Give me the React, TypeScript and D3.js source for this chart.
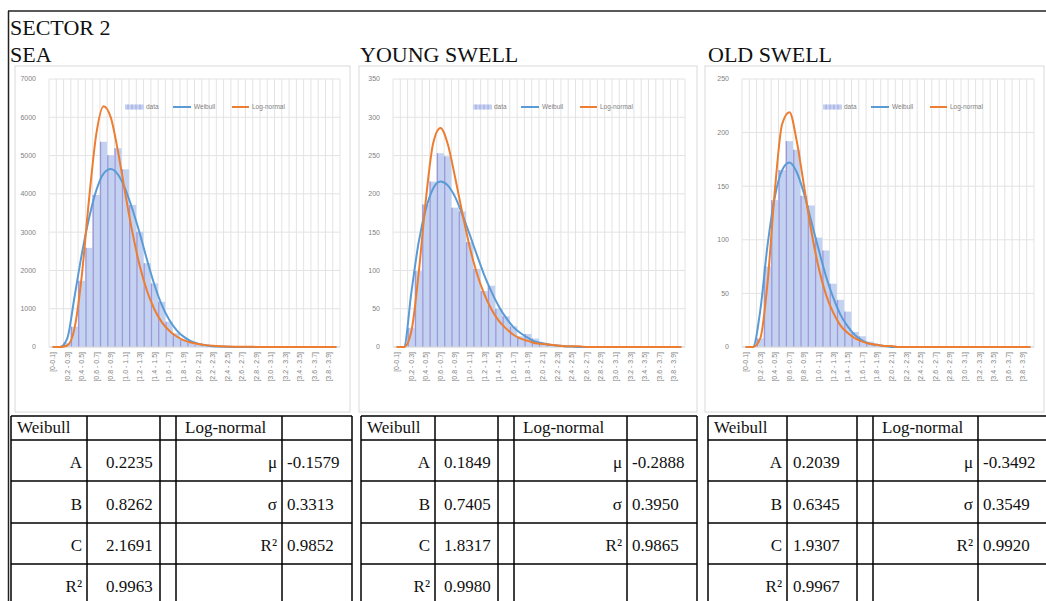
import React from "react";
import * as d3 from "d3";

// Wave-height bins (m); every second label is printed on the axis
const binLabels = [
  "[0-0.1]", "[0.1 - 0.2]", "[0.2 - 0.3]", "[0.3 - 0.4]", "[0.4 - 0.5]",
  "[0.5 - 0.6]", "[0.6 - 0.7]", "[0.7 - 0.8]", "[0.8 - 0.9]", "[0.9 - 1.0]",
  "[1.0 - 1.1]", "[1.1 - 1.2]", "[1.2 - 1.3]", "[1.3 - 1.4]", "[1.4 - 1.5]",
  "[1.5 - 1.6]", "[1.6 - 1.7]", "[1.7 - 1.8]", "[1.8 - 1.9]", "[1.9 - 2.0]",
  "[2.0 - 2.1]", "[2.1 - 2.2]", "[2.2 - 2.3]", "[2.3 - 2.4]", "[2.4 - 2.5]",
  "[2.5 - 2.6]", "[2.6 - 2.7]", "[2.7 - 2.8]", "[2.8 - 2.9]", "[2.9 - 3.0]",
  "[3.0 - 3.1]", "[3.1 - 3.2]", "[3.2 - 3.3]", "[3.3 - 3.4]", "[3.4 - 3.5]",
  "[3.5 - 3.6]", "[3.6 - 3.7]", "[3.7 - 3.8]", "[3.8 - 3.9]", "[3.9 - 4.0]",
];

// SEA
const seaCounts = [
  0, 20, 110, 530, 1730, 2590, 3970, 5360, 5010, 5190,
  4640, 3710, 3010, 2190, 1660, 1180, 660, 360, 200, 110,
  60, 30, 15, 8, 4, 2, 1, 1, 0, 0,
  0, 0, 0, 0, 0, 0, 0, 0, 0, 0,
];
const seaWeibull = [
  0, 0, 220, 1300, 2420, 3360, 4090, 4530, 4650, 4500,
  4120, 3580, 2950, 2260, 1620, 1100, 720, 450, 270, 155,
  85, 45, 22, 10, 5, 2, 1, 0, 0, 0,
  0, 0, 0, 0, 0, 0, 0, 0, 0, 0,
];
const seaLognormal = [
  0, 0, 40, 480, 1850, 3850, 5560, 6290, 5990, 5090,
  3990, 2960, 2100, 1450, 980, 650, 430, 280, 180, 117,
  76, 49, 32, 21, 14, 9, 6, 4, 3, 2,
  1, 1, 0, 0, 0, 0, 0, 0, 0, 0,
];

// YOUNG SWELL
const youngCounts = [
  0, 0, 25, 99, 186, 216, 253, 249, 182, 177,
  137, 102, 73, 80, 50, 40, 27, 14, 17, 11,
  5, 3, 2, 1, 0, 0, 0, 0, 0, 0,
  0, 0, 0, 0, 0, 0, 0, 0, 0, 0,
];
const youngWeibull = [
  0, 0, 70, 136, 180, 207, 216, 211, 196, 173,
  147, 120, 94, 72, 53, 38, 26, 18, 12, 7,
  5, 3, 2, 1, 0.5, 0, 0, 0, 0, 0,
  0, 0, 0, 0, 0, 0, 0, 0, 0, 0,
];
const youngLognormal = [
  0, 0, 20, 95, 192, 266, 286, 265, 222, 175,
  131, 96, 69, 49, 34, 24, 16, 11, 8, 5,
  4, 3, 2, 1, 1, 1, 0, 0, 0, 0,
  0, 0, 0, 0, 0, 0, 0, 0, 0, 0,
];

// OLD SWELL
const oldCounts = [
  0, 0, 8, 75, 137, 165, 192, 184, 141, 132,
  102, 90, 59, 44, 33, 14, 10, 5, 2, 1,
  0, 0, 0, 0, 0, 0, 0, 0, 0, 0,
  0, 0, 0, 0, 0, 0, 0, 0, 0, 0,
];
const oldWeibull = [
  0, 0, 34, 95, 140, 165, 172, 163, 143, 117,
  91, 66, 46, 30, 19, 11, 6, 3, 2, 1,
  0, 0, 0, 0, 0, 0, 0, 0, 0, 0,
  0, 0, 0, 0, 0, 0, 0, 0, 0, 0,
];
const oldLognormal = [
  0, 0, 8, 60, 146, 208, 219, 192, 150, 108,
  74, 49, 32, 20, 13, 8, 5, 3, 2, 1,
  1, 0, 0, 0, 0, 0, 0, 0, 0, 0,
  0, 0, 0, 0, 0, 0, 0, 0, 0, 0,
];

// Fitted parameters shown in the tables
const weibullParamNames = ["A", "B", "C", "R²"];
const lognormalParamNames = ["μ", "σ", "R²"];
const seaWeibullParams = ["0.2235", "0.8262", "2.1691", "0.9963"];
const seaLognormalParams = ["-0.1579", "0.3313", "0.9852"];
const youngWeibullParams = ["0.1849", "0.7405", "1.8317", "0.9980"];
const youngLognormalParams = ["-0.2888", "0.3950", "0.9865"];
const oldWeibullParams = ["0.2039", "0.6345", "1.9307", "0.9967"];
const oldLognormalParams = ["-0.3492", "0.3549", "0.9920"];

const seriesNames = ["data", "Weibull", "Log-normal"];

const W = 1046;
const H = 601;
const BLUE = "#5b9bd5";
const ORANGE = "#ed7d31";
const BAR = "#c2d2f0";
const BAR_EDGE = "#a097da";
const GRID = "#e3e3e3";
const TICK = "#7f7f7f";
const SERIF = "'Liberation Serif', 'Times New Roman', serif";
const SANS = "'Liberation Sans', Arial, sans-serif";

type Panel = {
  title: string;
  titleX: number;
  counts: number[];
  weibull: number[];
  lognormal: number[];
  yMax: number;
  yStep: number;
  plot: { left: number; right: number; top: number; bottom: number };
  box: { x: number; y: number; w: number; h: number };
  legendX: number;
  cols: number[];
  valuePad: number;
  wParams: string[];
  lParams: string[];
};

const panels: Panel[] = [
  {
    title: "SEA", titleX: 10,
    counts: seaCounts, weibull: seaWeibull, lognormal: seaLognormal,
    yMax: 7000, yStep: 1000,
    plot: { left: 49, right: 340, top: 79, bottom: 347 },
    box: { x: 15, y: 66, w: 335, h: 346 },
    legendX: 125,
    cols: [11, 87, 160, 176, 282, 352], valuePad: 19,
    wParams: seaWeibullParams, lParams: seaLognormalParams,
  },
  {
    title: "YOUNG SWELL", titleX: 360,
    counts: youngCounts, weibull: youngWeibull, lognormal: youngLognormal,
    yMax: 350, yStep: 50,
    plot: { left: 393, right: 685, top: 79, bottom: 347 },
    box: { x: 359, y: 66, w: 338, h: 346 },
    legendX: 473,
    cols: [361, 435, 498, 514, 627, 697], valuePad: 9,
    wParams: youngWeibullParams, lParams: youngLognormalParams,
  },
  {
    title: "OLD SWELL", titleX: 708,
    counts: oldCounts, weibull: oldWeibull, lognormal: oldLognormal,
    yMax: 250, yStep: 50,
    plot: { left: 742, right: 1034, top: 79, bottom: 347 },
    box: { x: 705, y: 66, w: 339, h: 346 },
    legendX: 823,
    cols: [708, 787, 857, 873, 978, 1050], valuePad: 6,
    wParams: oldWeibullParams, lParams: oldLognormalParams,
  },
];

const rowLines = [416, 440, 481, 523, 564, 605];

function ChartPanel({ p }: { p: Panel }) {
  const x = d3
    .scaleBand<string>()
    .domain(binLabels)
    .range([p.plot.left, p.plot.right])
    .padding(0);
  const y = d3
    .scaleLinear()
    .domain([0, p.yMax])
    .range([p.plot.bottom, p.plot.top]);
  const yTicks = d3.range(0, p.yMax + p.yStep / 2, p.yStep);
  const bw = x.bandwidth();
  const cx = (i: number) => (x(binLabels[i]) as number) + bw / 2;
  const line = d3
    .line<number>()
    .x((_, i) => cx(i))
    .y((v) => y(v))
    .curve(d3.curveMonotoneX);

  const lx = p.legendX;
  const ly = 107;

  return (
    <g>
      <rect x={p.box.x} y={p.box.y} width={p.box.w} height={p.box.h} fill="#fff" stroke="#d9d9d9" strokeWidth={1} />
      {/* gridlines */}
      {yTicks.map((t) => (
        <line key={"h" + t} x1={p.plot.left} x2={p.plot.right} y1={y(t)} y2={y(t)} stroke={GRID} strokeWidth={1} />
      ))}
      {binLabels.map((b) => (
        <line key={"v" + b} x1={x(b)} x2={x(b)} y1={p.plot.top} y2={p.plot.bottom} stroke={GRID} strokeWidth={1} />
      ))}
      <line x1={p.plot.right} x2={p.plot.right} y1={p.plot.top} y2={p.plot.bottom} stroke={GRID} strokeWidth={1} />
      {/* histogram */}
      {p.counts.map((v, i) => (
        <rect key={"b" + i} x={x(binLabels[i])} y={y(v)} width={bw} height={p.plot.bottom - y(v)} fill={BAR} />
      ))}
      {p.counts.map((v, i) =>
        v > 0 ? (
          <line key={"e" + i} x1={(x(binLabels[i]) as number) + 0.6} x2={(x(binLabels[i]) as number) + 0.6} y1={y(v)} y2={p.plot.bottom} stroke={BAR_EDGE} strokeWidth={1.3} />
        ) : null
      )}
      <line x1={p.plot.left} x2={p.plot.right} y1={p.plot.bottom} y2={p.plot.bottom} stroke="#d9d9d9" strokeWidth={1} />
      {/* fitted curves */}
      <path d={line(p.weibull) || ""} fill="none" stroke={BLUE} strokeWidth={2} />
      <path d={line(p.lognormal) || ""} fill="none" stroke={ORANGE} strokeWidth={2} />
      {/* y axis labels */}
      {yTicks.map((t) => (
        <text key={"yt" + t} x={p.plot.left - 13} y={y(t) + 2.4} textAnchor="end" fontSize={7} fill={TICK} fontFamily={SANS}>
          {t}
        </text>
      ))}
      {/* x axis labels */}
      {binLabels.map((b, i) =>
        i % 2 === 0 ? (
          <text key={"xt" + b} transform={`translate(${cx(i) + 2.4},${p.plot.bottom + 5}) rotate(-90)`} textAnchor="end" fontSize={7} fill={TICK} fontFamily={SANS}>
            {b}
          </text>
        ) : null
      )}
      {/* legend */}
      <rect x={lx} y={ly - 2.5} width={19} height={5} fill={BAR} />
      {[3, 7, 11, 15].map((o) => (
        <line key={"ls" + o} x1={lx + o} x2={lx + o} y1={ly - 2.5} y2={ly + 2.5} stroke={BAR_EDGE} strokeWidth={0.8} />
      ))}
      <text x={lx + 21} y={ly + 2.3} fontSize={6.5} fill={TICK} fontFamily={SANS}>{seriesNames[0]}</text>
      <line x1={lx + 48} x2={lx + 66} y1={ly} y2={ly} stroke={BLUE} strokeWidth={2} />
      <text x={lx + 69} y={ly + 2.3} fontSize={6.5} fill={TICK} fontFamily={SANS}>{seriesNames[1]}</text>
      <line x1={lx + 107} x2={lx + 124} y1={ly} y2={ly} stroke={ORANGE} strokeWidth={2} />
      <text x={lx + 127} y={ly + 2.3} fontSize={6.5} fill={TICK} fontFamily={SANS}>{seriesNames[2]}</text>
    </g>
  );
}

function ParamTable({ p }: { p: Panel }) {
  const c = p.cols;
  const fs = 17;
  const base = (r: number) => (r === 0 ? 433 : rowLines[r + 1] - 13);
  return (
    <g fontFamily={SERIF} fontSize={fs} fill="#111">
      {rowLines.map((ry) => (
        <line key={"r" + ry} x1={c[0]} x2={c[c.length - 1]} y1={ry} y2={ry} stroke="#000" strokeWidth={1.5} />
      ))}
      {c.map((cx0) => (
        <line key={"c" + cx0} x1={cx0} x2={cx0} y1={rowLines[0]} y2={rowLines[rowLines.length - 1]} stroke="#000" strokeWidth={1.5} />
      ))}
      <text x={c[0] + 6} y={base(0)}>Weibull</text>
      <text x={c[3] + 9} y={base(0)}>Log-normal</text>
      {weibullParamNames.map((n, i) => (
        <g key={"w" + n}>
          <text x={c[1] - 5} y={base(i + 1)} textAnchor="end">{n}</text>
          <text x={c[1] + p.valuePad} y={base(i + 1)}>{p.wParams[i]}</text>
        </g>
      ))}
      {lognormalParamNames.map((n, i) => (
        <g key={"l" + n}>
          <text x={c[4] - 5} y={base(i + 1)} textAnchor="end">{n}</text>
          <text x={c[4] + 5} y={base(i + 1)}>{p.lParams[i]}</text>
        </g>
      ))}
    </g>
  );
}

export default function App() {
  return (
    <svg width={W} height={H} viewBox={`0 0 ${W} ${H}`} style={{ position: "absolute", left: 0, top: 0, background: "#fff" }}>
      <rect x={0} y={0} width={W} height={H} fill="#fff" />
      {panels.map((p) => (
        <ChartPanel key={p.title} p={p} />
      ))}
      {panels.map((p) => (
        <ParamTable key={"t" + p.title} p={p} />
      ))}
      {/* outer frame */}
      <line x1={8} x2={W} y1={11} y2={11} stroke="#222" strokeWidth={1.5} />
      <line x1={8.5} x2={8.5} y1={11} y2={H} stroke="#222" strokeWidth={1.5} />
      <g fontFamily={SERIF} fontSize={22} fill="#111">
        <text x={10} y={35}>SECTOR 2</text>
        {panels.map((p) => (
          <text key={"h" + p.title} x={p.titleX} y={62}>{p.title}</text>
        ))}
      </g>
    </svg>
  );
}
